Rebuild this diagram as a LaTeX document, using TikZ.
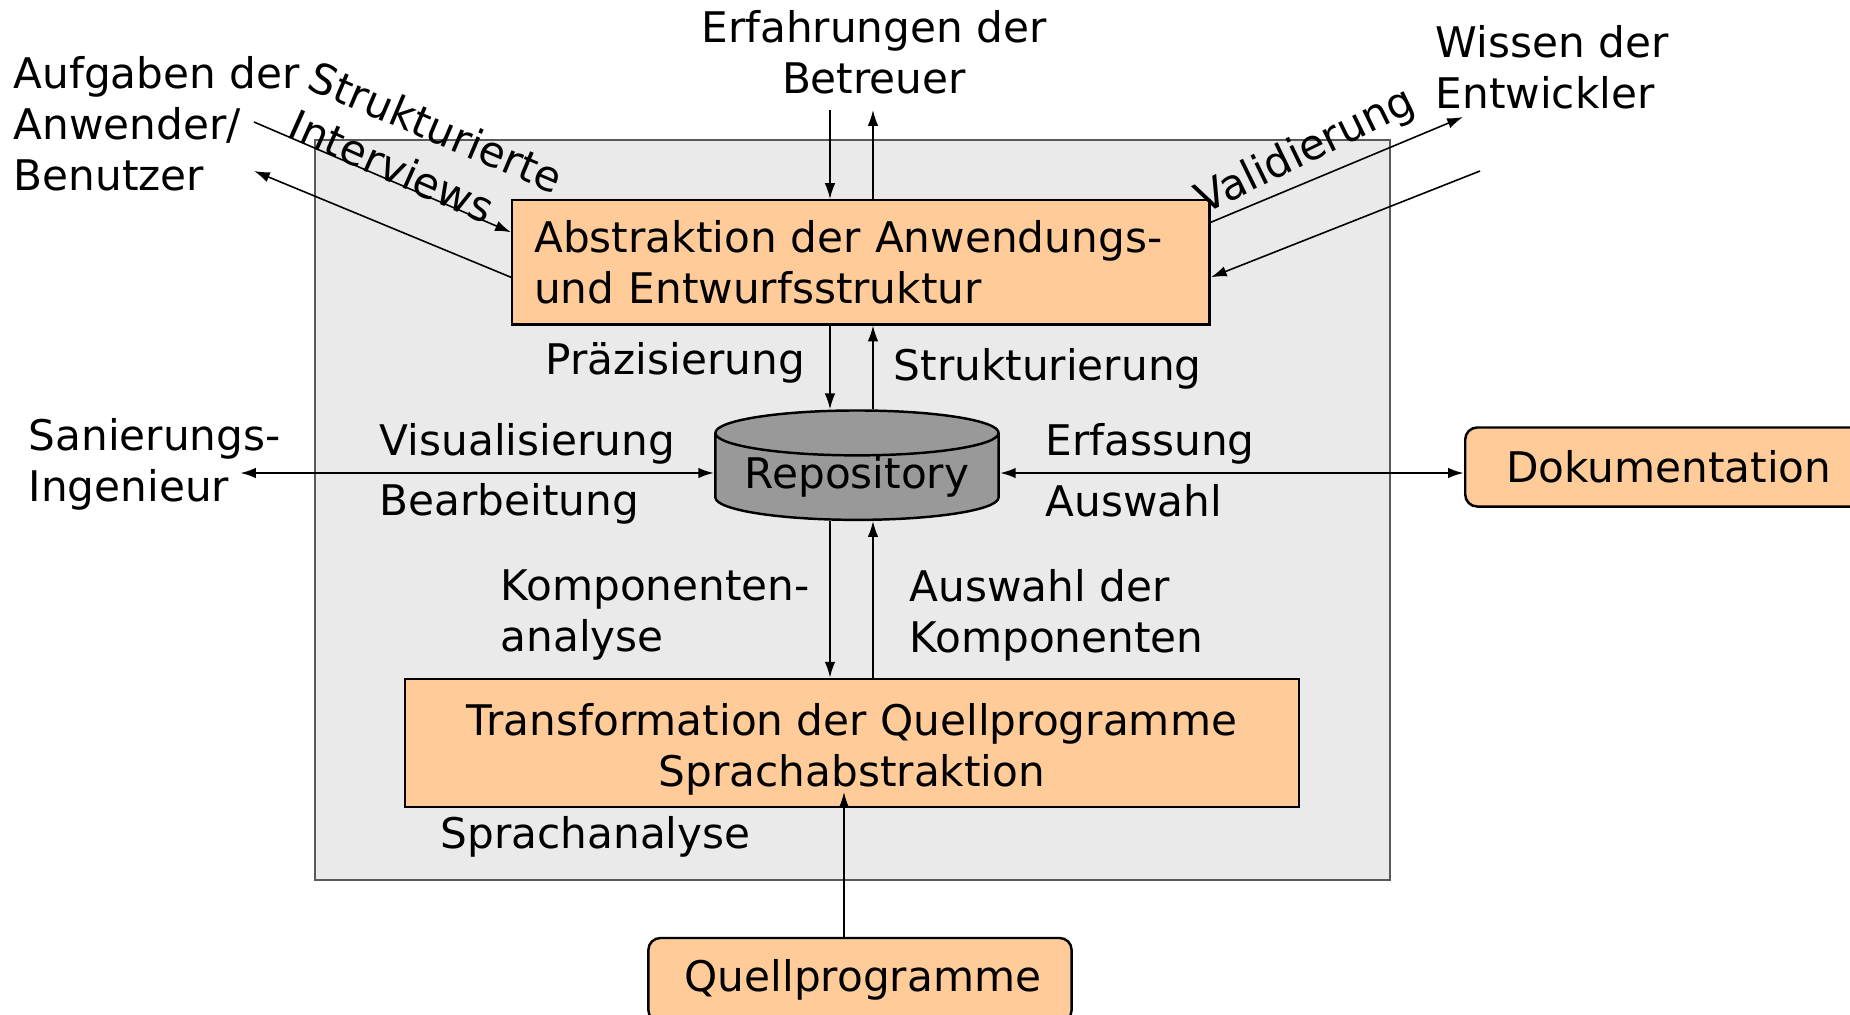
\documentclass[tikz,border=0pt]{standalone}
\usepackage{fontspec}
\setmainfont{DejaVu Sans}
\usetikzlibrary{calc, arrows.meta, shapes.geometric}
\definecolor{peach}{HTML}{FFCC99}
\definecolor{panel}{HTML}{EAEAEA}
\definecolor{panelline}{HTML}{5A5A5A}
\definecolor{repogray}{HTML}{999999}
\tikzset{
  txt/.style={inner sep=0pt, align=left},
  box/.style={draw, fill=peach, line width=0.7pt},
  flow/.style={-{Latex[length=4.5pt,width=3pt]}, line width=0.45pt},
  both/.style={{Latex[length=4.5pt,width=3pt]}-{Latex[length=4.5pt,width=3pt]}, line width=0.7pt},
  repostyle/.style={cylinder, shape border rotate=90, draw, fill=repogray, line width=0.7pt,
    minimum width=2.83cm, minimum height=0.99cm, aspect=0.2, inner sep=0pt}
}
\begin{document}
\begin{tikzpicture}[x=0.01cm, y=-0.01cm, font=\fontsize{12}{14.5}\selectfont]
\useasboundingbox (0,0) rectangle (1850,1014);
\draw[fill=panel, draw=panelline, line width=0.6pt] (315,140) rectangle (1390,880);

\node[box, anchor=north west, text width=6.53cm, inner xsep=0.22cm, minimum height=1.24cm, align=left] (abstr) at (511,199) {Abstraktion der Anwendungs-\\und Entwurfsstruktur};
\node[repostyle] (repo) at (857,477) {Repository};
\node[box, minimum width=8.93cm, minimum height=1.24cm, align=center] (trans) at (852,743) {\rule{0pt}{0.45cm}Transformation der Quellprogramme\\Sprachabstraktion};
\node[box, rounded corners=0.12cm, minimum width=4.23cm, minimum height=0.84cm] (quell) at (860,980) {\hspace{0.06cm}Quellprogramme};
\node[box, rounded corners=0.12cm, anchor=west, minimum height=0.79cm, inner xsep=0.41cm] (doku) at (1464,467) {Dokumentation};

\node[txt, align=center] (erfahr) at (874,52) {Erfahrungen der\\Betreuer};
\node[txt, anchor=west] (aufgaben) at (13,124) {Aufgaben der\\Anwender/\\Benutzer};
\node[txt, anchor=west] (wissen) at (1435,67) {Wissen der\\Entwickler};
\node[txt, anchor=west] (sanier) at (28,464) {Sanierungs-\\Ingenieur};

\node[txt, rotate=-23] (strukt) at (436,127) {Strukturierte};
\node[txt, rotate=-24] (interv) at (392,166) {Interviews};
\node[txt, rotate=26] (valid) at (1306,152) {Validierung};
\node[txt, anchor=west] (praez) at (545,363) {Präzisierung};
\node[txt, anchor=west] (strukt2) at (893,369) {Strukturierung};
\node[txt, anchor=west] (visual) at (379,444) {Visualisierung};
\node[txt, anchor=west] (bearb) at (379,504) {Bearbeitung};
\node[txt, anchor=west] (erfass) at (1045,444) {Erfassung};
\node[txt, anchor=west] (auswahl) at (1045,501) {Auswahl};
\node[txt, anchor=west] (kompana) at (500,615) {Komponenten-\\analyse};
\node[txt, anchor=west] (kompaus) at (909,615) {Auswahl der\\Komponenten};
\node[txt, anchor=west] (sprachana) at (440,837) {Sprachanalyse};

\coordinate (eIn) at (830,110);
\coordinate (eOut) at (873,110);
\coordinate (qtip) at (844,792);
\coordinate (sanTip) at (240,473);
\coordinate (aufIn) at (254,122);
\coordinate (aufOut) at (254,171);
\coordinate (wisOut) at (1463,117);
\coordinate (wisIn) at (1480,171);

\draw[flow] (eIn) -- (abstr.north -| eIn);
\draw[flow] (abstr.north -| eOut) -- (eOut);
\draw[flow] (abstr.south -| eIn) -- (repo.north -| eIn);
\draw[flow] (repo.north -| eOut) -- (abstr.south -| eOut);
\draw[flow] (repo.south -| eIn) -- (trans.north -| eIn);
\draw[flow] (trans.north -| eOut) -- (repo.south -| eOut);
\draw[flow] (quell.north -| qtip) -- (qtip);
\draw[both] (sanTip) -- (repo.west |- sanTip);
\draw[both] (repo.east |- sanTip) -- (doku.west |- sanTip);
\draw[flow] (aufIn) -- ($(abstr.west)+(0,-30)$);
\draw[flow] ($(abstr.west)+(0,15)$) -- (aufOut);
\draw[flow] ($(abstr.east)+(0,-40)$) -- (wisOut);
\draw[flow] (wisIn) -- ($(abstr.east)+(0,15)$);
\end{tikzpicture}
\end{document}
